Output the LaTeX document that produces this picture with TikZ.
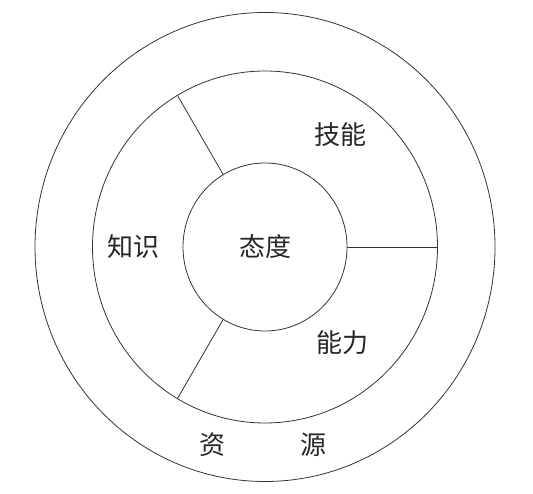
\documentclass[tikz,border=0pt]{standalone}
\usepackage{fontspec}
\setmainfont{Noto Sans CJK SC}
\usetikzlibrary{shapes.geometric, positioning}

\begin{document}
\begin{tikzpicture}[x=1pt, y=1pt]
    \tikzstyle{ring} = [ellipse, inner sep=0pt, draw=black!80, line width=0.8pt]
    \tikzstyle{word} = [inner sep=0pt, font=\fontsize{26}{26}\selectfont, text=black!85]
    \tikzstyle{spoke} = [draw=black!80, line width=0.8pt]

    \useasboundingbox (0,0) rectangle (533,493);

    \node (resource) [ring, minimum width=460pt, minimum height=469pt] at (265,246) {};
    \node (ability) [ring, minimum width=345pt, minimum height=352pt] at (265,246) {};
    \node (attitude) [ring, word, minimum width=164pt, minimum height=168pt] at (265,246) {态度};

    \node (knowledge) [word] at (133,246) {知识};
    \node (skill) [word] at (340,358) {技能};
    \node (power) [word] at (342,150) {能力};
    \node (zi) [word] at (212,48) {资};
    \node (yuan) [word] at (313,48) {源};

    \draw [spoke] (attitude.120) -- (ability.120);
    \draw [spoke] (attitude.0) -- (ability.0);
    \draw [spoke] (attitude.240) -- (ability.240);
\end{tikzpicture}
\end{document}
